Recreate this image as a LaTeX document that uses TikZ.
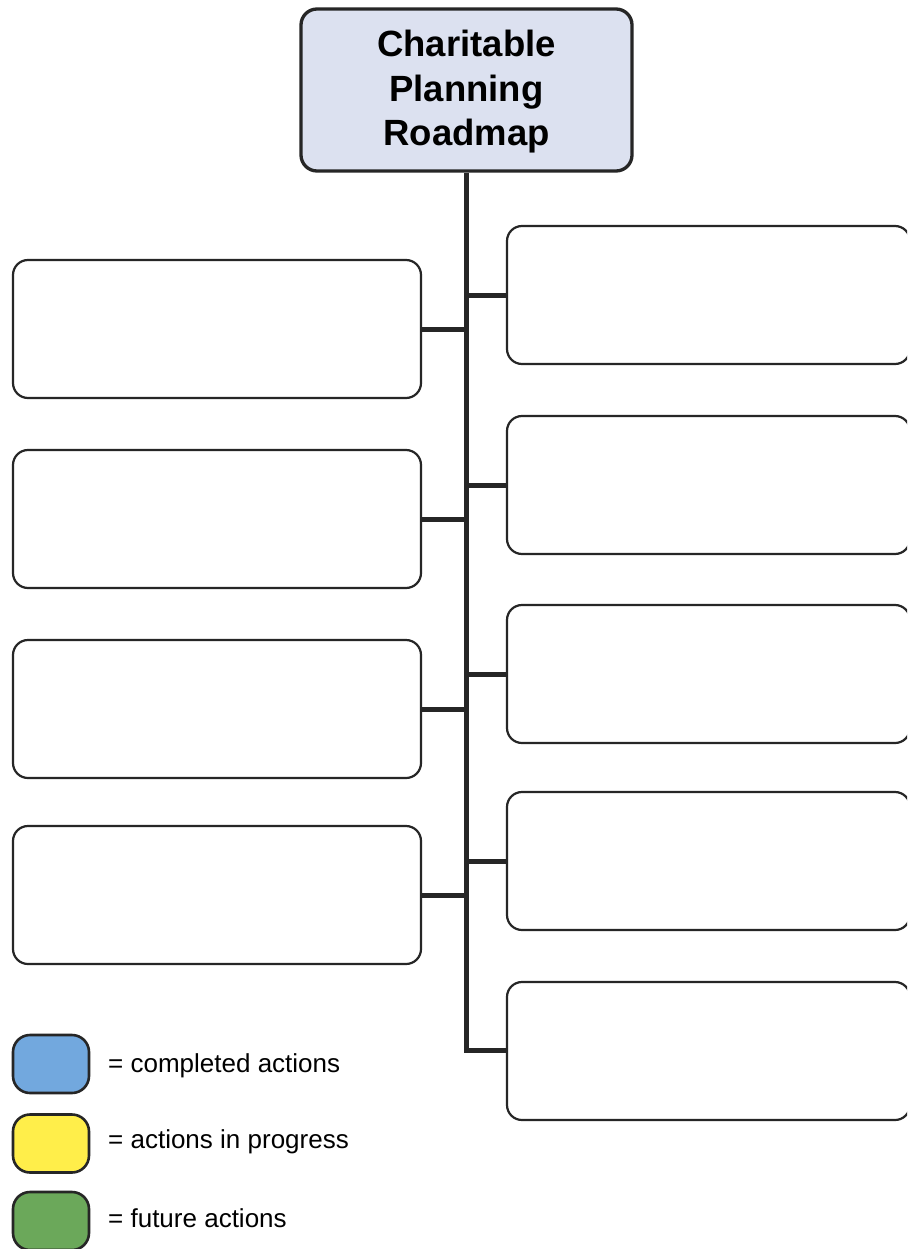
\documentclass[tikz,border=0pt]{standalone}
\usepackage{fontspec}
\setmainfont{Liberation Sans}
\definecolor{boxline}{HTML}{262626}
\definecolor{titlefill}{HTML}{DCE1F0}
\definecolor{legblue}{HTML}{72A8DE}
\definecolor{legyellow}{HTML}{FFEE4A}
\definecolor{leggreen}{HTML}{6BA85A}
\begin{document}
\begin{tikzpicture}[x=1pt,y=-1pt,
  lbox/.style={draw=boxline, line width=2.2pt, rounded corners=15pt, fill=white,
    minimum width=408pt, minimum height=138pt, inner sep=0pt},
  rbox/.style={lbox, minimum width=403pt},
  titlebox/.style={draw=boxline, line width=3.3pt, rounded corners=16pt, fill=titlefill,
    minimum width=331pt, minimum height=162pt, inner sep=0pt},
  titletext/.style={align=center, inner sep=0pt,
    font=\fontsize{36.5}{44.5}\selectfont\bfseries},
  legbox/.style={draw=boxline, line width=2.6pt, rounded corners=17pt,
    minimum width=76pt, minimum height=58pt, inner sep=0pt},
  legtext/.style={anchor=base west, inner sep=0pt, font=\fontsize{26}{30}\selectfont},
  conn/.style={draw=boxline, line width=5pt}]
\clip (0,0) rectangle (907,1249);
\fill[white] (0,0) rectangle (907,1249);
% title
\node[titlebox] (t) at (466.5,90) {};
\node[titletext] (tt) at (466.5,92) {Charitable\\Planning\\Roadmap};
\coordinate (sb) at (466,1050);
% boxes
\node[lbox] (l1) at (217,329) {};
\node[lbox] (l2) at (217,519) {};
\node[lbox] (l3) at (217,709) {};
\node[lbox] (l4) at (217,895) {};
\node[rbox] (r1) at (708.5,295) {};
\node[rbox] (r2) at (708.5,485) {};
\node[rbox] (r3) at (708.5,674) {};
\node[rbox] (r4) at (708.5,861) {};
\node[rbox] (r5) at (708.5,1051) {};
% spine and connectors
\draw[conn] (t.south -| sb) -- (sb) -- (sb -| r5.west);
\foreach \b in {l1,l2,l3,l4}{
  \draw[conn] (\b.east -| sb) -- (\b.east);
}
\foreach \b in {r1,r2,r3,r4}{
  \draw[conn] (\b.west -| sb) -- (\b.west);
}
% legend
\node[legbox, fill=legblue] (lb) at (51,1064) {};
\node[legbox, fill=legyellow] (ly) at (51,1143.5) {};
\node[legbox, fill=leggreen] (lg) at (51,1221) {};
\node[legtext] (tb) at (108,1072) {= completed actions};
\node[legtext] (ty) at (108,1148) {= actions in progress};
\node[legtext] (tg) at (108,1227) {= future actions};
\end{tikzpicture}
\end{document}
